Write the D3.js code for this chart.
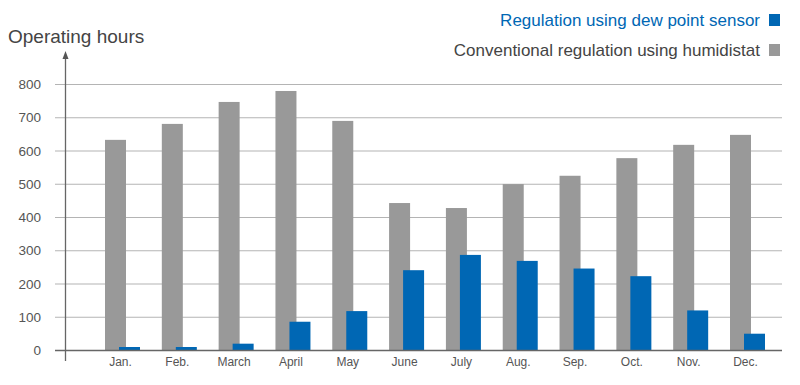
<!DOCTYPE html>
<html>
<head>
<meta charset="utf-8">
<script src="https://cdn.jsdelivr.net/npm/d3@7"></script>
<style>
  html, body { margin: 0; padding: 0; background: #fff; }
  svg { display: block; font-family: Arial, "Liberation Sans", sans-serif; }
</style>
</head>
<body>
<svg id="chart" width="800" height="385"></svg>
<script>
const months = ['Jan.', 'Feb.', 'March', 'April', 'May', 'June', 'July', 'Aug.', 'Sep.', 'Oct.', 'Nov.', 'Dec.']
const humidistat = [632, 680, 746, 779, 689, 442, 427, 499, 524, 577, 617, 647]
const dewPoint = [9, 9, 19, 85, 117, 240, 286, 268, 245, 222, 119, 49]
const yTicks = [0, 100, 200, 300, 400, 500, 600, 700, 800]

const BLUE = '#0067b4'
const GREY = '#999999'

const svg = d3.select('#chart')

// SCALES
const x = d3.scalePoint().domain(months).range([122.5, 747.5])
const y = d3.scaleLinear().domain([0, 800]).range([350, 84])
const barW = 21

// GRID + TICKS
const grid = svg.append('g')
grid.selectAll('line')
  .data(yTicks.filter(d => d > 0))
  .join('line')
  .attr('x1', 55).attr('x2', 782)
  .attr('y1', d => y(d) + 0.5).attr('y2', d => y(d) + 0.5)
  .attr('stroke', '#b4b4b4').attr('stroke-width', 1.2)

svg.append('g').selectAll('text')
  .data(yTicks)
  .join('text')
  .attr('x', 41).attr('y', d => y(d) + 5)
  .attr('text-anchor', 'end')
  .attr('font-size', 13.5)
  .attr('fill', '#555')
  .text(d => d)

// BARS
svg.append('g').selectAll('rect')
  .data(months)
  .join('rect')
  .attr('x', d => x(d) - 17.5)
  .attr('width', barW)
  .attr('y', (d, i) => y(humidistat[i]))
  .attr('height', (d, i) => y(0) - y(humidistat[i]))
  .attr('fill', GREY)

svg.append('g').selectAll('rect')
  .data(months)
  .join('rect')
  .attr('x', d => x(d) - 3.5)
  .attr('width', barW)
  .attr('y', (d, i) => y(dewPoint[i]))
  .attr('height', (d, i) => y(0) - y(dewPoint[i]))
  .attr('fill', BLUE)

// AXES
svg.append('line')
  .attr('x1', 55).attr('x2', 782)
  .attr('y1', y(0) + 0.5).attr('y2', y(0) + 0.5)
  .attr('stroke', '#666').attr('stroke-width', 1.3)

svg.append('line')
  .attr('x1', 65.5).attr('x2', 65.5)
  .attr('y1', 58).attr('y2', 361)
  .attr('stroke', '#666').attr('stroke-width', 1.3)
svg.append('path')
  .attr('d', 'M65.5,51 L62.5,59 L68.5,59 Z')
  .attr('fill', '#555')

svg.append('g').selectAll('text')
  .data(months)
  .join('text')
  .attr('x', d => x(d) - 2)
  .attr('y', 366)
  .attr('text-anchor', 'middle')
  .attr('font-size', 12)
  .attr('fill', '#555')
  .text(d => d)

// TITLE
svg.append('text')
  .attr('x', 8).attr('y', 43)
  .attr('font-size', 19)
  .attr('fill', '#444')
  .text('Operating hours')

// LEGEND
const legend = [
  { label: 'Regulation using dew point sensor', color: BLUE, text: BLUE, y: 20 },
  { label: 'Conventional regulation using humidistat', color: GREY, text: '#444', y: 50 }
]
const lg = svg.append('g').selectAll('g').data(legend).join('g')
lg.append('text')
  .attr('x', 760).attr('y', d => d.y + 6)
  .attr('text-anchor', 'end')
  .attr('font-size', 17)
  .attr('fill', d => d.text)
  .text(d => d.label)
lg.append('rect')
  .attr('x', 769).attr('y', d => d.y - 6)
  .attr('width', 11).attr('height', 12)
  .attr('fill', d => d.color)
</script>
</body>
</html>
